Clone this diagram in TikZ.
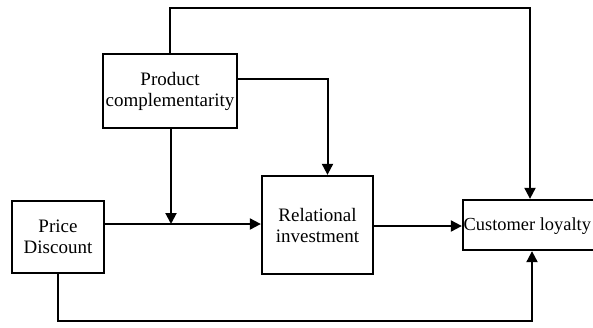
\documentclass[tikz,border=0pt]{standalone}
\usepackage{fontspec}
\setmainfont{Liberation Serif}
\usetikzlibrary{arrows.meta}
\begin{document}
\begin{tikzpicture}[x=1pt,y=-1pt,
  box/.style={draw,line width=2.3pt,rectangle,inner sep=0pt,align=center,font=\fontsize{19}{21}\selectfont},
  conn/.style={line width=2pt},
  arr/.style={conn,-{Triangle[length=11pt,width=11pt]}}]
\useasboundingbox (0,0) rectangle (593,327);
\clip (0,0) rectangle (593,327);
\node[box,minimum width=134pt,minimum height=74pt] (pc) at (170,91) {Product\\complementarity};
\node[box,minimum width=92pt,minimum height=72pt] (pd) at (58,237) {Price\\Discount};
\node[box,minimum width=111pt,minimum height=98pt] (ri) at (317.5,225) {Relational\\investment};
\node[box,minimum width=140pt,minimum height=50pt] (cl) at (533,225) {};
\node[anchor=west,inner sep=0pt,font=\fontsize{18.4}{21}\selectfont] (cltext) at (463.5,226) {Customer loyalty};
\coordinate (m) at (171,224);
\draw[arr] (pc.north) -- (170,8) -| ([xshift=-3pt]cl.north);
\draw[arr] (pc.east |- 0,79) -| ([xshift=10pt]ri.north);
\draw[arr] (pc.south -| m) -- (m);
\draw[arr] (pd.east |- 0,224) -- (ri.west |- 0,224);
\draw[arr] (ri.east |- 0,226) -- (cl.west |- 0,226);
\draw[arr] (pd.south) -- (58,321) -| ([xshift=-1pt]cl.south);
\end{tikzpicture}
\end{document}
